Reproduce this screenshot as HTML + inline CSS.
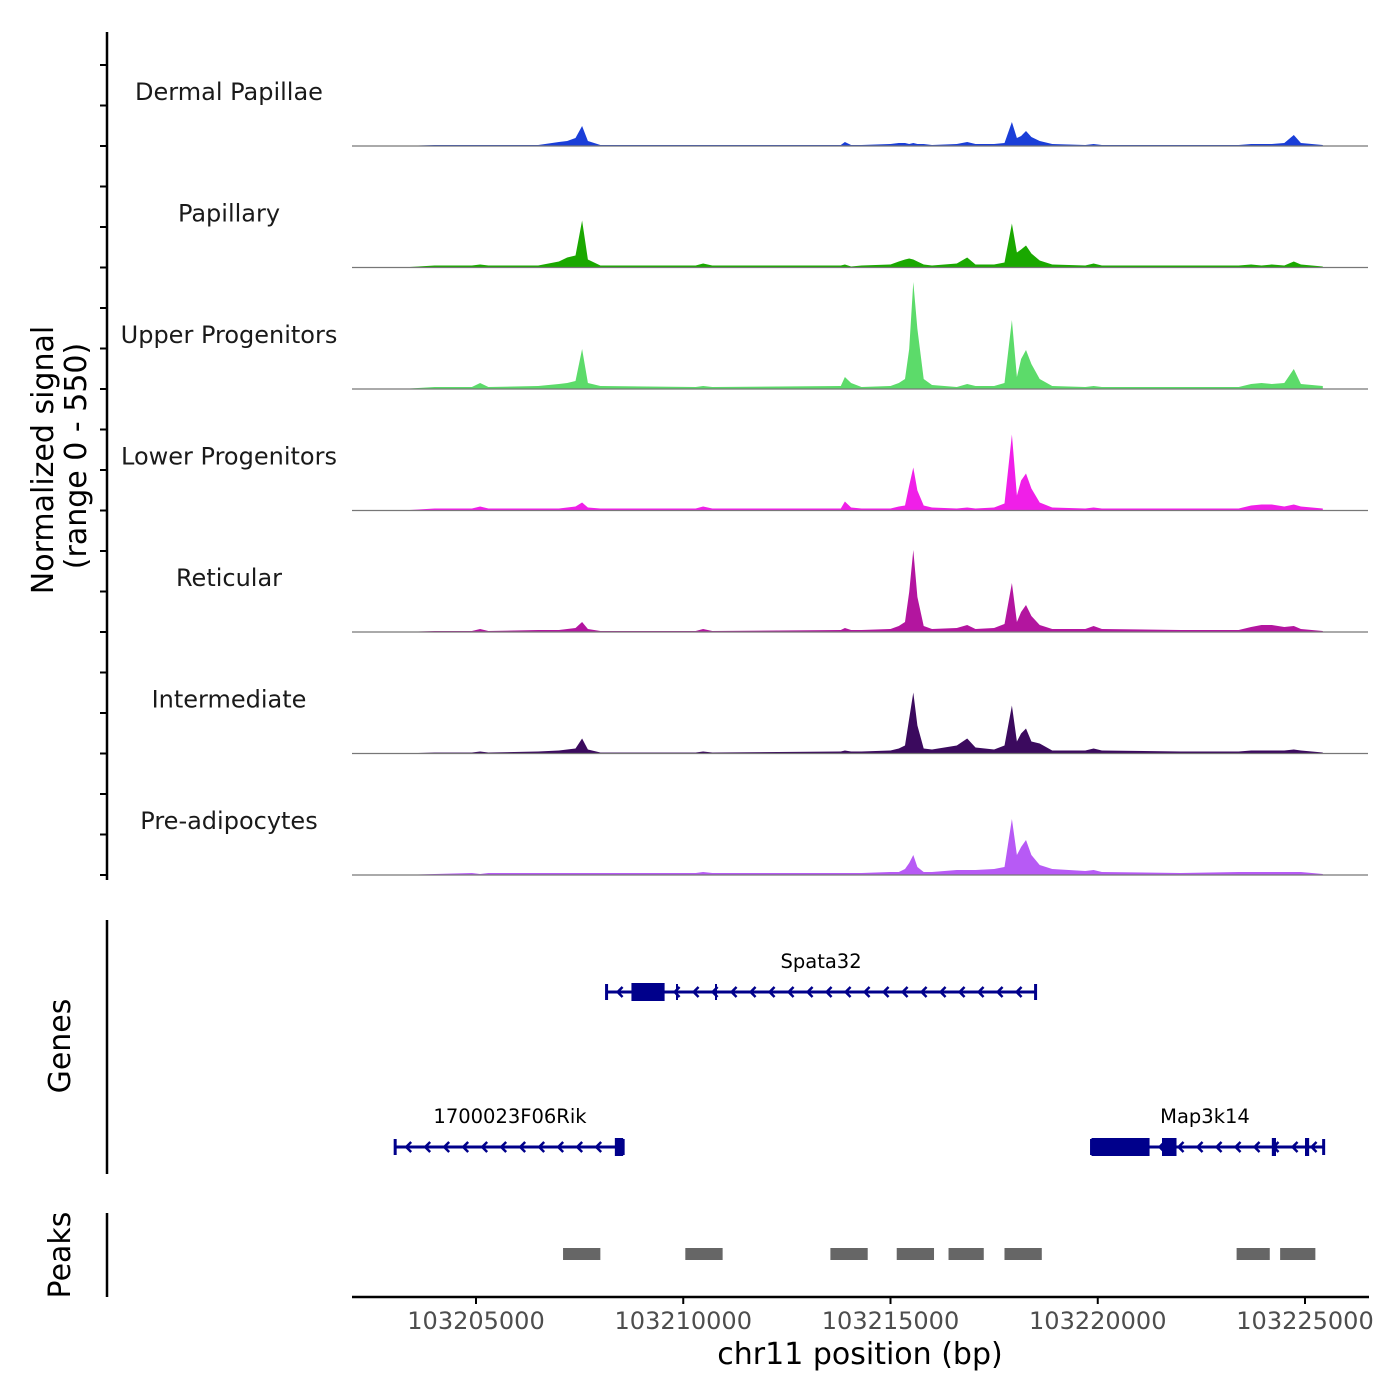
<!DOCTYPE html>
<html><head><meta charset="utf-8"><style>
body{margin:0;background:#fff;}
svg{display:block;font-family:"DejaVu Sans","Liberation Sans",sans-serif;}
</style></head><body>
<svg id="chart" width="1400" height="1400" viewBox="0 0 1400 1400">
<g id="tracks"></g>
<g id="leftaxis"></g>
<text x="0" y="0" transform="translate(53,460) rotate(-90)" text-anchor="middle" font-size="30" fill="#000">Normalized signal</text>
<text x="0" y="0" transform="translate(86,456) rotate(-90)" text-anchor="middle" font-size="30" fill="#000">(range 0 - 550)</text>
<g id="genes"></g>
<line x1="107" y1="920" x2="107" y2="1174" stroke="#000" stroke-width="2.5"/>
<text transform="translate(70,1046) rotate(-90)" text-anchor="middle" font-size="30">Genes</text>
<g id="peaks"></g>
<line x1="107" y1="1213" x2="107" y2="1297" stroke="#000" stroke-width="2.5"/>
<text transform="translate(70,1255) rotate(-90)" text-anchor="middle" font-size="30">Peaks</text>
<g id="xaxis"></g>
<text x="860" y="1364" text-anchor="middle" font-size="30">chr11 position (bp)</text>
</svg>
<script>
// positions in kb offset from 103200000
const positions=[3.2,4.0,4.9,5.1,5.3,6.5,7.0,7.2,7.4,7.56,7.7,8.0,10.3,10.48,10.7,13.8,13.9,14.05,14.3,15.0,15.2,15.35,15.45,15.55,15.65,15.8,16.0,16.6,16.85,17.05,17.5,17.75,17.93,18.05,18.15,18.27,18.4,18.6,18.9,19.7,19.9,20.1,22.0,23.4,23.7,23.95,24.2,24.5,24.73,24.9,25.43];
const trackNames=["Dermal Papillae","Papillary","Upper Progenitors","Lower Progenitors","Reticular","Intermediate","Pre-adipocytes"];
const trackColors=["#1a3ed8","#1aa800","#5cdb6a","#f01fe8","#b3159f","#3b0a5e","#b75af5"];
const dermalPapillae=[0,1,1,1,1,1,4,5,8,20,5,1,1,1,1,1,4,1,1,2,3,3,2,3,2,2,1,2,4,2,2,3,24,8,10,15,9,5,2,1,2,1,1,1,2,2,2,3,11,3,1];
const papillary=[0,2,2,3,2,2,6,10,12,47,8,2,2,4,2,2,3,1,2,3,6,8,9,8,6,3,2,4,10,3,3,5,44,15,18,22,14,7,3,2,4,2,2,2,3,2,3,2,6,3,1];
const upperProgenitors=[0,2,2,6,2,3,5,6,8,40,6,3,2,3,2,3,12,6,2,3,6,10,40,107,60,10,4,2,5,3,3,6,69,12,30,39,25,10,3,2,3,2,2,2,5,6,5,6,20,5,3];
const lowerProgenitors=[0,2,2,4,2,2,2,3,4,8,3,2,2,4,2,2,9,3,2,2,4,5,25,43,20,5,3,2,3,2,3,7,76,15,30,37,22,8,3,2,3,2,2,2,5,6,6,4,6,4,2];
const reticular=[0,1,1,3,1,2,2,3,4,10,3,1,1,3,1,2,4,2,2,3,6,10,40,82,35,6,3,4,7,3,4,8,49,10,20,27,16,7,3,3,6,3,2,2,5,7,7,5,6,3,1];
const intermediate=[0,1,1,2,1,2,3,4,5,15,4,1,1,2,1,2,3,2,2,3,5,8,35,61,28,5,4,8,15,6,4,8,48,12,20,25,12,10,3,3,5,3,2,2,3,3,3,3,4,3,1];
const preAdipocytes=[0,1,2,1,2,2,2,2,2,2,2,2,2,3,2,2,2,2,2,3,3,6,12,20,8,3,3,5,5,5,6,8,56,20,28,35,20,10,6,4,5,3,2,3,3,3,3,3,3,3,1];
const seriesValues=[dermalPapillae,papillary,upperProgenitors,lowerProgenitors,reticular,intermediate,preAdipocytes];
const xTicks=[5,10,15,20,25];
const xTickLabels=["103205000","103210000","103215000","103220000","103225000"];
const genes=["Spata32","1700023F06Rik","Map3k14"];
const geneStart=[8.15,3.05,19.85];
const geneEnd=[18.5,8.55,25.45];
const geneRow=[0,1,1];
const exonStart=[8.75,8.35,19.85,21.55,24.2,25.0];
const exonEnd=[9.55,8.55,21.25,21.9,24.3,25.1];
const exonGene=[0,1,2,2,2,2];
const peakStart=[7.1,10.05,13.55,15.15,16.4,17.75,23.35,24.4];
const peakEnd=[8.0,10.95,14.45,16.05,17.25,18.65,24.15,25.25];

const NS='http://www.w3.org/2000/svg';
function mk(t,a,p){const e=document.createElementNS(NS,t);for(const k in a)e.setAttribute(k,a[k]);p.appendChild(e);return e;}
function X(kb){return 476+(kb-5)*41.45;}
const trackH=121.5, base0=146;
function Y(i,v){return base0+i*trackH - v;}
const tg=document.getElementById('tracks');
seriesValues.forEach((vals,i)=>{
  const b=base0+i*trackH;
  let d='M'+X(positions[0])+','+b;
  vals.forEach((v,j)=>{d+=' L'+X(positions[j]).toFixed(1)+','+Y(i,v).toFixed(1);});
  d+=' L'+X(positions[positions.length-1])+','+b+' Z';
  const p=mk('path',{d:d,fill:trackColors[i]},tg);
  
  
  const l=mk('line',{x1:352,x2:1368,y1:b,y2:b,stroke:'#777','stroke-width':1.2},tg);
  
  
  const t=mk('text',{x:229,y:b-46,'text-anchor':'middle','font-size':24,fill:'#1a1a1a'},tg);
  t.textContent=trackNames[i];
  
  
});
const la=document.getElementById('leftaxis');
mk('line',{x1:107,x2:107,y1:32,y2:880,stroke:'#000','stroke-width':2.5},la);
for(let i=0;i<7;i++){for(let k=0;k<3;k++){const y=base0+i*trackH-k*40.5;
  const tk=mk('line',{x1:100,x2:107,y1:y,y2:y,stroke:'#000','stroke-width':2},la);
  
  }}
// genes
const gg=document.getElementById('genes');
const rowY=[992,1147];
genes.forEach((g,i)=>{
  const y=rowY[geneRow[i]],x1=X(geneStart[i]),x2=X(geneEnd[i]);
  const ln=mk('line',{x1:x1,x2:x2,y1:y,y2:y,stroke:'#00008b','stroke-width':3},gg);
  
  
  for(let x=x1+12;x<x2-4;x+=19){mk('path',{d:`M${x+4},${y-5} L${x-1},${y} L${x+4},${y+5}`,stroke:'#00008b','stroke-width':2.5,fill:'none'},gg);}
  mk('line',{x1:x1,x2:x1,y1:y-8,y2:y+8,stroke:'#00008b','stroke-width':3},gg);
  mk('line',{x1:x2,x2:x2,y1:y-8,y2:y+8,stroke:'#00008b','stroke-width':3},gg);
  const t=mk('text',{x:(x1+x2)/2,y:y-24,'text-anchor':'middle','font-size':19.5,fill:'#000'},gg);
  if(i==1){t.setAttribute('x',510);} if(i==2){t.setAttribute('x',1205);}
  t.textContent=g;
  
  
});
exonStart.forEach((s,i)=>{const y=rowY[geneRow[exonGene[i]]];
  const r=mk('rect',{x:X(s),y:y-9,width:Math.max(4,X(exonEnd[i])-X(s)),height:18,fill:'#00008b'},gg);
  
  });
[677,716].forEach(x=>mk('line',{x1:x,x2:x,y1:984,y2:1000,stroke:'#00008b','stroke-width':2},gg));
// peaks
const pg=document.getElementById('peaks');
peakStart.forEach((s,i)=>{const r=mk('rect',{x:X(s),y:1248,width:X(peakEnd[i])-X(s),height:12,fill:'#666'},pg);
  
  });
// x axis
const xa=document.getElementById('xaxis');
mk('line',{x1:352,x2:1369,y1:1297,y2:1297,stroke:'#000','stroke-width':2.5},xa);
xTicks.forEach((t,i)=>{const x=X(t);
  mk('line',{x1:x,x2:x,y1:1297,y2:1304,stroke:'#000','stroke-width':2},xa);
  const tx=mk('text',{x:x,y:1329,'text-anchor':'middle','font-size':24,fill:'#4d4d4d'},xa);
  tx.textContent=xTickLabels[i];
  
  });
</script>
</body></html>
